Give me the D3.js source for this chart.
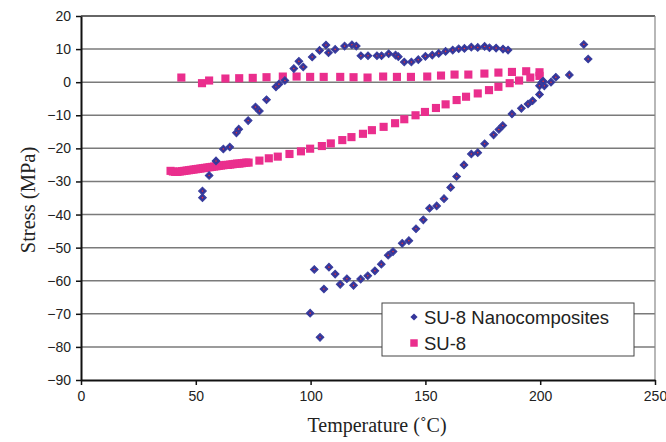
<!DOCTYPE html>
<html>
<head>
<meta charset="utf-8">
<script src="https://cdn.jsdelivr.net/npm/d3@7"></script>
<style>
  body { margin: 0; background: #fff; }
  svg { display: block; }
</style>
</head>
<body>
<div id="chart"></div>
<script>
// SU-8 nanocomposite readings (temperature in C, stress in MPa)
var nanoTemp = [
  52.9, 52.9, 55.8, 58.8, 62.0, 64.8, 67.7, 68.7, 72.8, 76.0, 77.7, 80.8,
  84.9, 86.2, 88.8, 92.7, 94.9, 96.8, 100.7, 103.9, 106.7, 107.8, 110.7,
  114.8, 118.0, 119.9, 121.9, 125.0, 128.9, 130.9, 134.0, 137.0, 138.2,
  140.8, 143.9, 146.9, 150.0, 153.0, 155.8, 158.8, 161.9, 164.5, 167.0,
  170.0, 172.8, 175.8, 177.9, 180.8, 183.8, 186.0,
  219.0, 220.9, 212.7, 206.8, 204.7, 201.8, 200.7, 201.3, 199.7, 199.7,
  196.7, 194.7, 191.8, 187.7, 183.7, 182.0, 179.7, 175.8, 172.8, 170.0,
  166.8, 163.6, 161.0, 158.1, 154.9, 151.8, 149.1, 145.9, 142.8, 139.9,
  135.9, 133.8, 130.8, 128.0, 124.9, 121.8, 118.7, 115.8, 112.9, 110.7,
  108.0, 105.8, 101.6, 99.8, 104.1
];
var nanoStress = [
  -32.9, -34.9, -28.2, -23.8, -20.2, -19.6, -15.3, -14.2, -11.6, -7.5, -8.7, -5.3,
  -1.4, -0.6, 0.5, 4.1, 6.3, 4.6, 7.6, 9.6, 11.2, 8.9, 9.9,
  10.9, 11.3, 10.9, 8.0, 8.0, 8.0, 8.0, 8.6, 8.2, 7.7,
  6.1, 6.1, 6.8, 7.8, 8.2, 8.7, 9.3, 9.7, 10.1, 10.2,
  10.6, 10.5, 10.8, 10.4, 10.3, 10.0, 9.7,
  11.4, 7.0, 2.2, 1.5, 0.0, -1.1, -0.1, 0.3, -1.1, -3.7,
  -5.6, -6.6, -7.9, -9.6, -13.1, -14.3, -15.9, -18.6, -21.3, -21.7,
  -25.0, -28.5, -31.8, -35.2, -37.4, -38.1, -41.6, -44.3, -47.9, -48.7,
  -51.2, -52.3, -55.0, -57.0, -58.5, -59.5, -61.4, -59.4, -61.1, -58.0,
  -55.9, -62.5, -56.6, -69.8, -77.1
];

// neat SU-8 readings
var su8Temp = [
  43.7, 52.7, 55.8, 62.9, 68.9, 74.8, 80.8, 87.9, 93.9, 99.8, 105.7, 112.9,
  118.7, 124.8, 131.6, 137.6, 143.7, 150.8, 156.8, 162.7, 168.7, 175.7,
  181.8, 187.7, 193.9, 199.7, 199.7, 195.7, 190.8, 186.7, 181.8, 177.7,
  172.8, 167.7, 163.6, 158.8, 154.6, 149.8, 145.7, 140.8, 136.8, 131.8,
  126.7, 122.8, 117.8, 113.8, 108.8, 104.9, 99.8, 95.8, 90.8, 85.7, 81.8,
  77.7, 73.0, 72.0, 71.0, 70.0, 69.0, 68.0, 67.0, 66.0, 65.0, 64.0, 63.0,
  62.0, 61.0, 60.0, 59.0, 58.0, 57.0, 56.0, 55.0, 54.0, 53.0, 52.0, 51.0,
  50.0, 49.0, 48.0, 47.0, 46.0, 45.0, 44.0, 43.0, 42.0, 41.0, 40.0, 39.0
];
var su8Stress = [
  1.4, -0.3, 0.5, 1.1, 1.2, 1.3, 1.5, 1.7, 1.7, 1.6, 1.6, 1.6,
  1.5, 1.4, 1.7, 1.6, 1.6, 1.7, 2.0, 2.3, 2.3, 2.6,
  2.9, 3.1, 3.3, 3.0, 1.9, 1.4, 0.5, -0.3, -1.4, -2.4,
  -3.4, -4.4, -5.4, -6.7, -7.8, -9.0, -10.0, -11.2, -12.4, -13.5,
  -14.5, -15.6, -16.6, -17.5, -18.5, -19.3, -20.1, -20.9, -21.7, -22.5, -23.0,
  -23.7, -24.3, -24.3, -24.4, -24.5, -24.6, -24.6, -24.7, -24.8, -24.9, -25.0, -25.0,
  -25.1, -25.2, -25.3, -25.4, -25.5, -25.6, -25.7, -25.8, -25.9, -26.0, -26.1, -26.2,
  -26.3, -26.4, -26.5, -26.6, -26.7, -26.8, -26.9, -27.0, -27.1, -27.1, -27.0, -26.8
];

var xTicks = [0, 50, 100, 150, 200, 250];
var yTicks = [20, 10, 0, -10, -20, -30, -40, -50, -60, -70, -80, -90];
var seriesNames = ["SU-8 Nanocomposites", "SU-8"];

var width = 666, height = 442;
var margin = {top: 16, right: 11, bottom: 62, left: 81};

var svg = d3.select("#chart").append("svg")
  .attr("width", width)
  .attr("height", height);

var x = d3.scaleLinear().domain([0, 250]).range([margin.left, width - margin.right]);
var y = d3.scaleLinear().domain([-90, 20]).range([height - margin.bottom, margin.top]);

// horizontal grid lines
svg.append("g")
  .selectAll("line")
  .data(yTicks.filter(function(d) { return d !== -90; }))
  .join("line")
  .attr("x1", x(0)).attr("x2", x(250))
  .attr("y1", function(d) { return y(d); })
  .attr("y2", function(d) { return y(d); })
  .attr("stroke", function(d) { return d === 20 ? "#333" : "#7a7a7a"; })
  .attr("stroke-width", 1.5);

// right border
svg.append("line")
  .attr("x1", x(250)).attr("x2", x(250))
  .attr("y1", y(20)).attr("y2", y(-90))
  .attr("stroke", "#888").attr("stroke-width", 1.2);

// axes
var yAxis = svg.append("g")
  .attr("transform", "translate(" + x(0) + ",0)")
  .call(d3.axisLeft(y).tickValues(yTicks).tickSize(5).tickSizeOuter(0).tickPadding(5));
var xAxis = svg.append("g")
  .attr("transform", "translate(0," + y(-90) + ")")
  .call(d3.axisBottom(x).tickValues(xTicks).tickSize(5).tickSizeOuter(0).tickPadding(6));

[yAxis, xAxis].forEach(function(g) {
  g.select(".domain").attr("stroke", "#111").attr("stroke-width", 2);
  g.selectAll(".tick line").attr("stroke", "#111").attr("stroke-width", 1.5);
  g.selectAll(".tick text")
    .attr("fill", "#222")
    .style("font-family", "'Liberation Sans', Arial, sans-serif")
    .style("font-size", "14px");
});

// axis titles
svg.append("text")
  .attr("x", 377).attr("y", 432)
  .attr("text-anchor", "middle")
  .attr("fill", "#222")
  .style("font-family", "'Liberation Serif', 'Times New Roman', serif")
  .style("font-size", "20px")
  .text("Temperature (\u02DAC)");

svg.append("text")
  .attr("transform", "translate(35,200) rotate(-90)")
  .attr("text-anchor", "middle")
  .attr("fill", "#222")
  .style("font-family", "'Liberation Serif', 'Times New Roman', serif")
  .style("font-size", "20.5px")
  .text("Stress (MPa)");

var pink = "#ea2e8d", navy = "#34359a";

// SU-8 squares
var squares = d3.symbol().type(d3.symbolSquare).size(66);
svg.append("g")
  .selectAll("path")
  .data(su8Temp)
  .join("path")
  .attr("d", squares)
  .attr("transform", function(d, i) { return "translate(" + x(d) + "," + y(su8Stress[i]) + ")"; })
  .attr("fill", pink);

// nanocomposite diamonds (rotated squares)
var diamonds = d3.symbol().type(d3.symbolSquare).size(30);
var nano = svg.append("g")
  .selectAll("g")
  .data(nanoTemp)
  .join("g")
  .attr("transform", function(d, i) { return "translate(" + x(d) + "," + y(nanoStress[i]) + ")"; });
nano.append("path")
  .attr("d", diamonds)
  .attr("transform", "rotate(45)")
  .attr("fill", navy)
  .attr("stroke", "#3a3f9e")
  .attr("stroke-width", 1);
nano.append("circle")
  .attr("r", 0.8)
  .attr("fill", "#e33");

// legend
var legend = svg.append("g").attr("transform", "translate(382,303)");
legend.append("rect")
  .attr("width", 252).attr("height", 53)
  .attr("fill", "#fff")
  .attr("stroke", "#444").attr("stroke-width", 1);

var items = legend.selectAll("g.item")
  .data(seriesNames)
  .join("g")
  .attr("class", "item")
  .attr("transform", function(d, i) { return "translate(32," + (14 + i * 26) + ")"; });

items.filter(function(d, i) { return i === 0; })
  .append("path")
  .attr("d", d3.symbol().type(d3.symbolSquare).size(26))
  .attr("transform", "rotate(45)")
  .attr("fill", navy);
items.filter(function(d, i) { return i === 1; })
  .append("path")
  .attr("d", d3.symbol().type(d3.symbolSquare).size(56))
  .attr("fill", pink);

items.append("text")
  .attr("x", 10).attr("y", 6.5)
  .attr("fill", "#222")
  .style("font-family", "'Liberation Sans', Arial, sans-serif")
  .style("font-size", "18.5px")
  .text(function(d) { return d; });
</script>
</body>
</html>
